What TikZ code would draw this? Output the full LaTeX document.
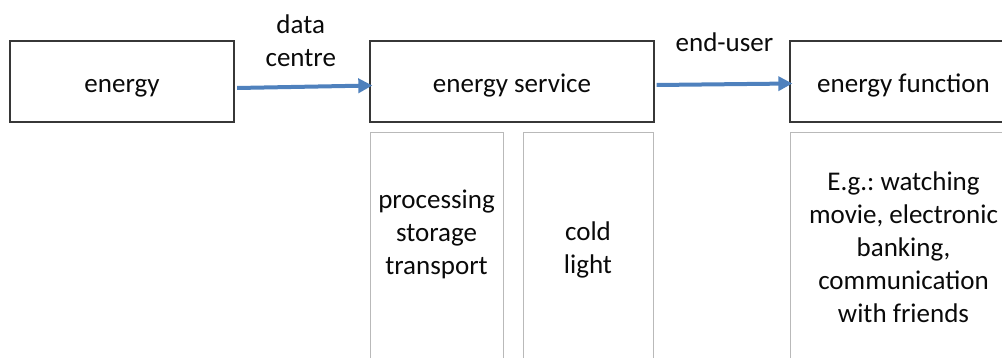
\documentclass[tikz,border=0pt]{standalone}
\usepackage{fontspec}
\setmainfont{Carlito}
\usetikzlibrary{arrows.meta}
\definecolor{flowblue}{RGB}{79,129,189}
\definecolor{boxline}{RGB}{55,55,55}
\definecolor{subline}{RGB}{185,185,185}
\definecolor{txtcol}{RGB}{10,10,10}
\frenchspacing
\begin{document}
\begin{tikzpicture}[x=1pt,y=1pt,
  every node/.style={font=\fontsize{27}{33}\selectfont, inner sep=0pt, text=txtcol},
  mainbox/.style={draw=boxline, line width=1.3pt, text height=27pt, text depth=4pt, minimum height=81pt},
  subframe/.style={draw=subline, line width=1pt, anchor=north west, minimum height=260pt},
  flow/.style={draw=flowblue, line width=4pt, -{Triangle[length=14pt,width=14pt]}},
  txt/.style={align=center}
]
\useasboundingbox (0,0) rectangle (1002,-358);
\clip (-1,1) rectangle (1003,-359);

% top row
\node[mainbox, minimum width=224pt] (energy) at (122,-81.5) {energy};
\node[mainbox, minimum width=284pt] (service) at (512,-81.5) {energy service};
\node[mainbox, minimum width=227pt] (function) at (903.5,-81.5) {energy function};

% sub frames
\node[subframe, minimum width=133pt] (procbox) at (370,-132) {};
\node[subframe, minimum width=130pt] (coldbox) at (523,-132) {};
\node[subframe, minimum width=227pt] (funcbox) at (790,-132) {};

% sub texts
\node[txt] (proc) at (436.5,-234.9) {\strut processing\\\strut storage\\\strut transport};
\node[txt] (cold) at (588,-250.4) {\strut cold\\\strut light};
\node[txt] (func) at (903.5,-250.1) {\strut E.g.: watching\\\strut movie, electronic\\\strut banking,\\\strut communication\\\strut with friends};

% connectors
\draw[flow] ([xshift=2.5pt,yshift=-6.5pt]energy.east) --
  node[txt, above=8pt, xshift=-4pt] (lbl1) {\strut data\\\strut centre}
  ([xshift=3pt,yshift=-4pt]service.west);
\draw[flow] ([xshift=2pt,yshift=-3.5pt]service.east) --
  node[txt, above=21pt] (lbl2) {\strut end-user}
  ([xshift=3pt,yshift=-2pt]function.west);
\end{tikzpicture}
\end{document}
